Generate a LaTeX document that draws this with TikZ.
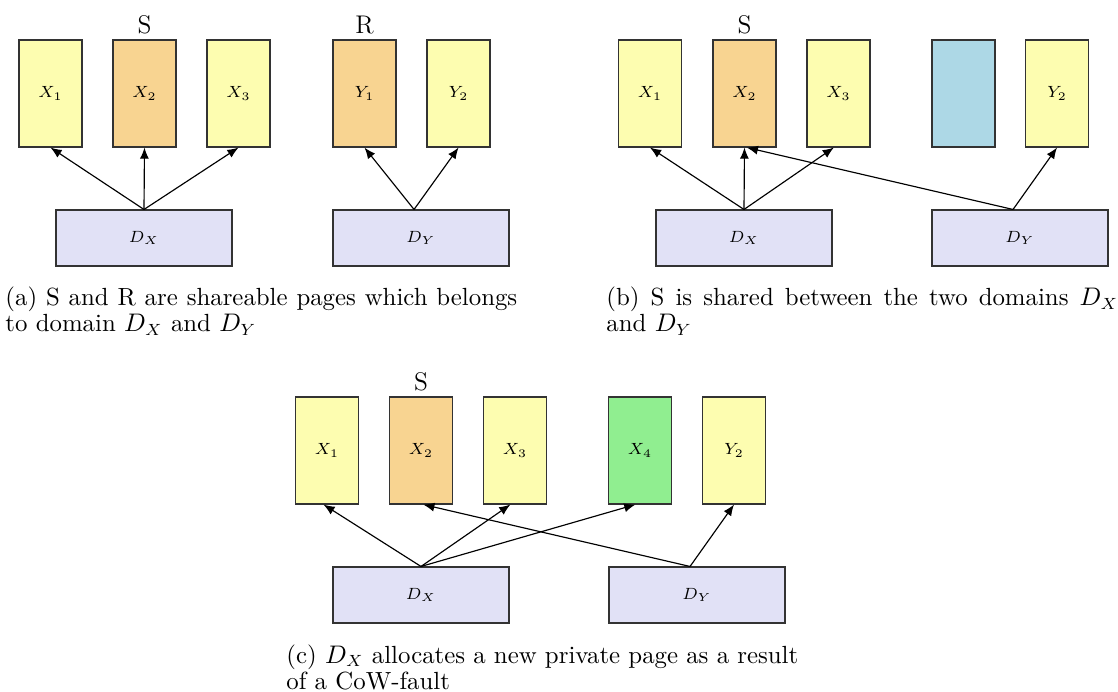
\documentclass[tikz,border=0pt]{standalone}
\usetikzlibrary{arrows.meta}
\definecolor{pageyellow}{RGB}{253,253,176}
\definecolor{pageorange}{RGB}{248,212,145}
\definecolor{pageblue}{RGB}{173,216,230}
\definecolor{pagegreen}{RGB}{144,238,144}
\definecolor{domblue}{RGB}{225,225,246}
\tikzset{
  page/.style={draw=black!80, line width=0.5pt, minimum width=27.15pt, minimum height=46.1pt, inner sep=0pt, font=\fontsize{7.5}{9}\selectfont},
  yel/.style={page, fill=pageyellow},
  ora/.style={page, fill=pageorange},
  blu/.style={page, fill=pageblue},
  gre/.style={page, fill=pagegreen},
  dom/.style={draw=black!80, line width=0.5pt, fill=domblue, minimum width=75.9pt, minimum height=24.1pt, inner sep=0pt, font=\fontsize{7.5}{9}\selectfont},
  link/.style={-{Latex[length=4.8pt,width=3.9pt]}, line width=0.5pt},
  lbl/.style={anchor=base, inner sep=0pt, font=\fontsize{11}{13}\selectfont},
  captext/.style={anchor=base west, inner sep=0pt, font=\fontsize{10.7}{13}\selectfont}
}
\newcommand{\capline}[1]{\makebox[220.6pt][s]{#1}}
\begin{document}
\begin{tikzpicture}[x=0.431pt, y=-0.431pt]
\useasboundingbox (0,0) rectangle (1118,691);

% ---------- panel (a)
\node[yel] (a1) at (50.5,93.5) {$X_1$};
\node[ora] (a2) at (144.5,93.5) {$X_2$};
\node[yel] (a3) at (238.5,93.5) {$X_3$};
\node[ora] (a4) at (364.5,93.5) {$Y_1$};
\node[yel] (a5) at (458.5,93.5) {$Y_2$};
\node[lbl] (aS) at (144.5,33.5) {S};
\node[lbl] (aR) at (364.5,33.5) {R};
\node[dom] (adx) at (144,238) {$D_X$};
\node[dom] (ady) at (421,238) {$D_Y$};
\coordinate (adyo) at ([xshift=-3pt]ady.north);
\draw[link] (adx.north) -- (a1.south);
\draw[link] (adx.north) -- (a2.south);
\draw[link] (adx.north) -- (a3.south);
\draw[link] (adyo) -- (a4.south);
\draw[link] (adyo) -- (a5.south);
\node[captext] (acap1) at (5,305.5) {\capline{(a) S and R are shareable pages which belongs}};
\node[captext] (acap2) at (5,331.5) {to domain $D_X$ and $D_Y$};

% ---------- panel (b)
\node[yel] (b1) at (650,93.5) {$X_1$};
\node[ora] (b2) at (744.5,93.5) {$X_2$};
\node[yel] (b3) at (838.5,93.5) {$X_3$};
\node[blu] (b4) at (963.5,93.5) {};
\node[yel] (b5) at (1057,93.5) {$Y_2$};
\node[lbl] (bS) at (744.5,33.5) {S};
\node[dom] (bdx) at (744,238) {$D_X$};
\node[dom] (bdy) at (1020,238) {$D_Y$};
\coordinate (bdyo) at ([xshift=-3pt]bdy.north);
\draw[link] (bdx.north) -- (b1.south);
\draw[link] (bdx.north) -- (b2.south);
\draw[link] (bdx.north) -- ([xshift=-2pt]b3.south);
\draw[link] (bdyo) -- ([xshift=1pt]b2.south);
\draw[link] (bdyo) -- (b5.south);
\node[captext] (bcap1) at (606,305.5) {\capline{(b) S is shared between the two domains $D_X$}};
\node[captext] (bcap2) at (606,331.5) {and $D_Y$};

% ---------- panel (c)
\node[yel] (c1) at (327,450.5) {$X_1$};
\node[ora] (c2) at (421,450.5) {$X_2$};
\node[yel] (c3) at (515,450.5) {$X_3$};
\node[gre] (c4) at (640,450.5) {$X_4$};
\node[yel] (c5) at (734,450.5) {$Y_2$};
\node[lbl] (cS) at (421,390.5) {S};
\node[dom] (cdx) at (421,595) {$D_X$};
\node[dom] (cdy) at (697,595) {$D_Y$};
\coordinate (cdyo) at ([xshift=-3pt]cdy.north);
\draw[link] (cdx.north) -- ([xshift=-1.5pt]c1.south);
\draw[link] (cdx.north) -- ([xshift=-2pt]c3.south);
\draw[link] (cdx.north) -- ([xshift=-2pt]c4.south);
\draw[link] (cdyo) -- ([xshift=1pt]c2.south);
\draw[link] (cdyo) -- (c5.south);
\node[captext] (ccap1) at (286,663) {\capline{(c) $D_X$ allocates a new private page as a result}};
\node[captext] (ccap2) at (286,689) {of a CoW-fault};
\end{tikzpicture}
\end{document}
